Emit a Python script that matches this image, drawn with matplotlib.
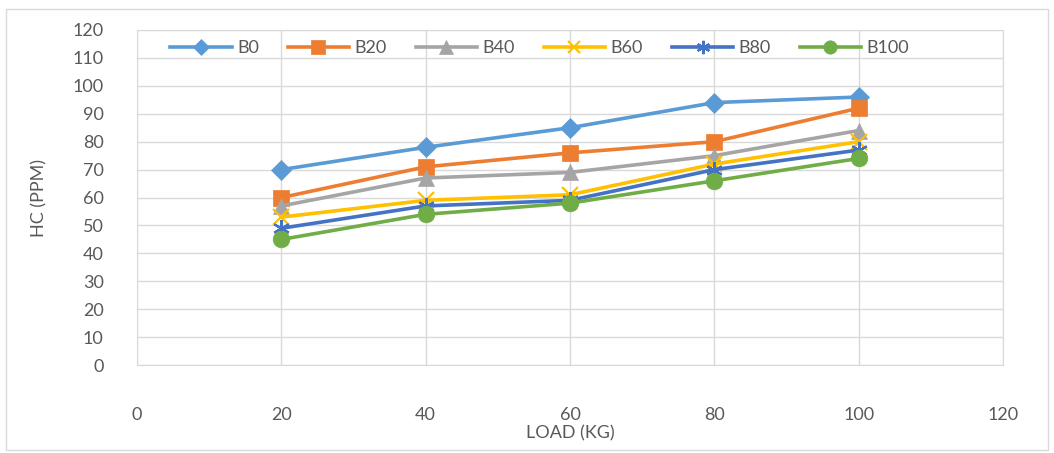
import matplotlib.pyplot as plt
from matplotlib.patches import Rectangle

# load steps (kg) and HC emissions (ppm) for each blend
load = [20, 40, 60, 80, 100]
b0 = [70, 78, 85, 94, 96]
b20 = [60, 71, 76, 80, 92]
b40 = [57, 67, 69, 75, 84]
b60 = [53, 59, 61, 72, 80]
b80 = [49, 57, 59, 70, 77]
b100 = [45, 54, 58, 66, 74]

series = [
    ("B0", b0, "#5B9BD5", "D", 10),
    ("B20", b20, "#ED7D31", "s", 12),
    ("B40", b40, "#A5A5A5", "^", 12),
    ("B60", b60, "#FFC000", "x", 11),
    ("B80", b80, "#4472C4", (6, 2, 0), 12),
    ("B100", b100, "#70AD47", "o", 12),
]

plt.rcParams['font.family'] = ['Lato', 'DejaVu Sans']
txt = "#595959"
grid = "#D9D9D9"

fig = plt.figure(figsize=(10.54, 4.53), dpi=100)
ax = fig.add_axes([0.130, 0.194, 0.8216, 0.7398])

for name, vals, col, mk, ms in series:
    ax.plot(load, vals, color=col, lw=2.6, marker=mk, ms=ms,
            mew=1.6 if mk in ("x", (6, 2, 0)) else 0.5, mec=col, mfc=col,
            label=name)

ax.set_xlim(0, 120)
ax.set_ylim(0, 120)
ax.set_xticks(range(0, 121, 20))
ax.set_yticks(range(0, 121, 10))
ax.grid(True, color=grid, lw=1)
ax.set_axisbelow(True)
for s in ax.spines.values():
    s.set_color(grid)
ax.tick_params(length=0, labelsize=13, labelcolor=txt)
ax.tick_params(axis='y', pad=24)
ax.tick_params(axis='x', pad=30)

ax.set_xlabel("LOAD (KG)", fontsize=13, color=txt, labelpad=2)
ax.set_ylabel("HC (PPM)", fontsize=13, color=txt, labelpad=18)

ax.legend(loc='upper center', bbox_to_anchor=(0.465, 1.0), ncol=6,
          frameon=False, fontsize=13, labelcolor=txt, handlelength=3.4,
          columnspacing=1.6, handletextpad=0.3, borderaxespad=0.15,
          markerscale=0.8)

# outer chart border
fig.patches.append(Rectangle((0.006, 0.006), 0.988, 0.975, transform=fig.transFigure,
                             fill=False, ec=grid, lw=1))

fig.savefig("out.png", dpi=100)
